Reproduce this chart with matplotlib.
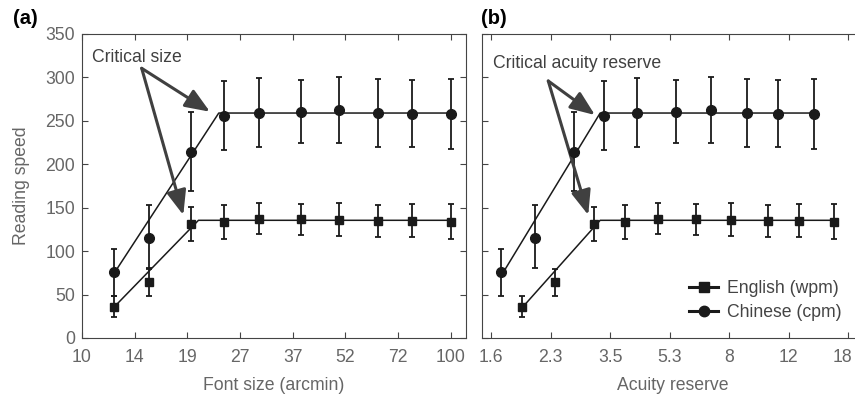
"""
Reading speed vs font size (a) and vs acuity reserve (b),
English (wpm) and Chinese (cpm), with two-limb fits.
"""
import matplotlib
matplotlib.use("Agg")
import matplotlib.pyplot as plt
from matplotlib.lines import Line2D
from matplotlib.ticker import NullLocator
from matplotlib.transforms import ScaledTranslation

plt.rcParams["font.family"] = ["Liberation Sans", "DejaVu Sans"]

# ---- data ----
font_size = [12.2, 15.2, 19.7, 24.3, 30.3, 39.3, 49.8, 63.5, 78.7, 100]
acuity_en = [1.93, 2.42, 3.15, 3.89, 4.89, 6.37, 8.10, 10.39, 12.86, 16.35]
acuity_ch = [1.67, 2.10, 2.75, 3.38, 4.24, 5.53, 7.06, 9.03, 11.18, 14.25]

eng_speed = [35.7, 64.5, 131.6, 133.5, 137.4, 137.0, 136.2, 134.3, 135.0, 133.9]
eng_hi = [48.7, 80.0, 150.5, 153.0, 155.0, 154.6, 155.8, 153.5, 154.3, 154.3]
eng_lo = [24.5, 48.3, 112.0, 113.6, 120.0, 118.6, 117.4, 116.7, 116.3, 114.0]

chi_speed = [75.6, 115.5, 214.5, 255.6, 259.0, 259.8, 262.1, 259.0, 258.2, 258.2]
chi_hi = [102.5, 153.5, 260.2, 295.5, 299.0, 297.0, 300.5, 298.5, 297.0, 298.2]
chi_lo = [48.7, 81.0, 169.6, 216.0, 220.0, 224.0, 224.9, 220.3, 219.5, 217.6]

# two-limb fits: (x, y) vertices
fit_a_en_x = [12.2, 20.7, 100]
fit_a_en_y = [35.3, 135.5, 135.5]
fit_a_ch_x = [12.2, 23.5, 100]
fit_a_ch_y = [74.0, 259.0, 259.0]
fit_b_en_x = [1.93, 3.29, 16.35]
fit_b_en_y = [35.3, 135.5, 135.5]
fit_b_ch_x = [1.67, 3.29, 14.25]
fit_b_ch_y = [72.0, 259.0, 259.0]

ticks_a = [10, 13.9, 19.3, 26.8, 37.3, 51.8, 72.0, 100]
labels_a = ["10", "14", "19", "27", "37", "52", "72", "100"]
ticks_b = [1.555, 2.34, 3.522, 5.30, 7.98, 12.01, 18.07]
labels_b = ["1.6", "2.3", "3.5", "5.3", "8", "12", "18"]
yticks = [0, 50, 100, 150, 200, 250, 300, 350]

FS = 12.7
INK = "#1a1a1a"
GREY = "#666666"
ARROW = "#404040"


def draw_panel(ax, x_en, x_ch, fit_en, fit_ch, ticks, labels, xlim):
    ax.plot(fit_en[0], fit_en[1], color=INK, lw=1.1, zorder=2)
    ax.plot(fit_ch[0], fit_ch[1], color=INK, lw=1.1, zorder=2)
    err_en = [[s - l for s, l in zip(eng_speed, eng_lo)],
              [h - s for s, h in zip(eng_speed, eng_hi)]]
    err_ch = [[s - l for s, l in zip(chi_speed, chi_lo)],
              [h - s for s, h in zip(chi_speed, chi_hi)]]
    ax.errorbar(x_en, eng_speed, yerr=err_en, fmt="s", ms=5.8, color=INK,
                ecolor=INK, elinewidth=1.3, capsize=2.5, capthick=1.3, zorder=3)
    ax.errorbar(x_ch, chi_speed, yerr=err_ch, fmt="o", ms=7.0, color=INK,
                ecolor=INK, elinewidth=1.3, capsize=2.5, capthick=1.3, zorder=3)
    ax.set_xscale("log")
    ax.set_xlim(*xlim)
    ax.set_ylim(0, 350)
    ax.set_xticks(ticks)
    ax.set_xticklabels(labels)
    ax.xaxis.set_minor_locator(NullLocator())
    ax.set_yticks(yticks)
    ax.tick_params(direction="in", top=True, right=True, length=4, width=0.8,
                   color="#444444", labelcolor=GREY, labelsize=FS)
    ax.tick_params(axis="x", pad=8)
    ax.tick_params(axis="y", pad=5)
    for sp in ax.spines.values():
        sp.set_color("#444444")
        sp.set_linewidth(0.8)


def arrow(ax, base, tip):
    ax.annotate("", xy=tip, xytext=base,
                arrowprops=dict(arrowstyle="-|>,head_length=1.5,head_width=0.6",
                                color=ARROW, lw=2.2, shrinkA=0, shrinkB=0,
                                mutation_scale=10))


fig = plt.figure(figsize=(8.55, 3.99), dpi=100)
ax1 = fig.add_axes([0.0959, 0.1529, 0.4491, 0.7619])
ax2 = fig.add_axes([0.5634, 0.1529, 0.4467, 0.7619])

draw_panel(ax1, font_size, font_size, (fit_a_en_x, fit_a_en_y),
           (fit_a_ch_x, fit_a_ch_y), ticks_a, labels_a, (10, 110.1))
draw_panel(ax2, acuity_en, acuity_ch, (fit_b_en_x, fit_b_en_y),
           (fit_b_ch_x, fit_b_ch_y), ticks_b, labels_b, (1.459, 20.08))
ax2.set_yticklabels([])

# keep the last label of panel (b) inside the figure edge
last = ax2.get_xticklabels()[-1]
last.set_transform(last.get_transform() + ScaledTranslation(-4 / 72, 0, fig.dpi_scale_trans))

ax1.set_xlabel("Font size (arcmin)", fontsize=FS, color=GREY, labelpad=8)
ax2.set_xlabel("Acuity reserve", fontsize=FS, color=GREY, labelpad=8)
ax1.set_ylabel("Reading speed", fontsize=FS, color=GREY, labelpad=11)

# annotations
ax1.text(10.62, 323, "Critical size", fontsize=FS, color=ARROW, va="center")
arrow(ax1, (14.52, 310.5), (22.24, 260.5))
arrow(ax1, (14.52, 310.5), (18.83, 141.6))

ax2.text(1.573, 316, "Critical acuity reserve", fontsize=FS, color=ARROW, va="center")
arrow(ax2, (2.304, 295.9), (3.175, 256.7))
arrow(ax2, (2.304, 295.9), (3.032, 141.6))

handles = [Line2D([], [], color=INK, lw=2.2, marker="s", ms=6.5),
           Line2D([], [], color=INK, lw=2.2, marker="o", ms=7.5)]
leg = ax2.legend(handles, ["English (wpm)", "Chinese (cpm)"], loc="center left",
                 bbox_to_anchor=(0.5428, 0.1227), frameon=False, fontsize=FS,
                 handlelength=1.65, handletextpad=0.5, labelspacing=0.42,
                 borderpad=0, borderaxespad=0)
for t in leg.get_texts():
    t.set_color("#444444")

fig.text(13 / 855, 1 - 19 / 399, "(a)", fontsize=14.5, fontweight="bold", va="center")
fig.text(481 / 855, 1 - 19 / 399, "(b)", fontsize=14.5, fontweight="bold", va="center")

fig.savefig("out.png", dpi=100)
